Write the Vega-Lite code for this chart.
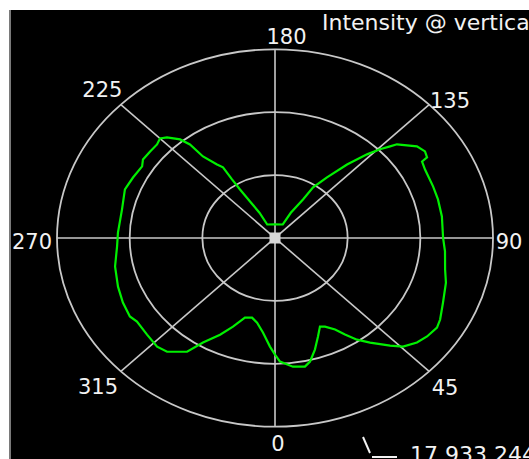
{
  "$schema": "https://vega.github.io/schema/vega-lite/v6.json",
  "width": 519,
  "height": 449,
  "autosize": {"type": "none"},
  "padding": {"left": 10, "top": 10, "right": 0, "bottom": 0},
  "background": "#ffffff",
  "config": {"view": {"fill": "#000000", "stroke": null}},
  "datasets": {
    "curve": [
      {"angle": 0, "r": 0.618}, {"angle": 2.0, "r": 0.655}, {"angle": 6.9, "r": 0.687}, {"angle": 11.4, "r": 0.695},
      {"angle": 13.8, "r": 0.674}, {"angle": 17.2, "r": 0.619}, {"angle": 20.7, "r": 0.558}, {"angle": 23.7, "r": 0.513},
      {"angle": 26.0, "r": 0.523}, {"angle": 29.6, "r": 0.558}, {"angle": 32.1, "r": 0.604}, {"angle": 34.9, "r": 0.657},
      {"angle": 38.2, "r": 0.705}, {"angle": 42.8, "r": 0.777}, {"angle": 45.6, "r": 0.822}, {"angle": 49.6, "r": 0.855},
      {"angle": 53.2, "r": 0.871}, {"angle": 57.4, "r": 0.882}, {"angle": 60.3, "r": 0.872}, {"angle": 66.1, "r": 0.843},
      {"angle": 73.2, "r": 0.819}, {"angle": 77.9, "r": 0.798}, {"angle": 84.8, "r": 0.783}, {"angle": 90.0, "r": 0.771},
      {"angle": 98.5, "r": 0.774}, {"angle": 105.3, "r": 0.775}, {"angle": 110.7, "r": 0.775}, {"angle": 117.8, "r": 0.778},
      {"angle": 121.0, "r": 0.787}, {"angle": 121.5, "r": 0.818}, {"angle": 123.7, "r": 0.827}, {"angle": 126.7, "r": 0.812},
      {"angle": 131.6, "r": 0.748}, {"angle": 132.6, "r": 0.717}, {"angle": 134.3, "r": 0.673}, {"angle": 136.4, "r": 0.612},
      {"angle": 139.7, "r": 0.511}, {"angle": 143.4, "r": 0.400}, {"angle": 146.9, "r": 0.320}, {"angle": 147.8, "r": 0.241},
      {"angle": 151.5, "r": 0.152}, {"angle": 153.5, "r": 0.080}, {"angle": 180.0, "r": 0.072}, {"angle": 206.5, "r": 0.080},
      {"angle": 208.0, "r": 0.152}, {"angle": 210.6, "r": 0.225}, {"angle": 212.0, "r": 0.303}, {"angle": 212.4, "r": 0.368},
      {"angle": 212.5, "r": 0.444}, {"angle": 214.3, "r": 0.472}, {"angle": 217.4, "r": 0.544}, {"angle": 218.2, "r": 0.631},
      {"angle": 219.8, "r": 0.680}, {"angle": 222.9, "r": 0.728}, {"angle": 225.0, "r": 0.746}, {"angle": 227.5, "r": 0.734},
      {"angle": 231.3, "r": 0.734}, {"angle": 235.5, "r": 0.735}, {"angle": 238.1, "r": 0.718}, {"angle": 243.8, "r": 0.726},
      {"angle": 249.5, "r": 0.735}, {"angle": 257.8, "r": 0.718}, {"angle": 267.7, "r": 0.721}, {"angle": 273.6, "r": 0.726},
      {"angle": 281.6, "r": 0.749}, {"angle": 289.7, "r": 0.765}, {"angle": 296.1, "r": 0.777}, {"angle": 302.0, "r": 0.785},
      {"angle": 305.0, "r": 0.773}, {"angle": 311.1, "r": 0.779}, {"angle": 316.8, "r": 0.790}, {"angle": 320.6, "r": 0.780},
      {"angle": 326.2, "r": 0.725}, {"angle": 329.2, "r": 0.645}, {"angle": 333.8, "r": 0.571}, {"angle": 337.7, "r": 0.508},
      {"angle": 341.9, "r": 0.444}, {"angle": 346.0, "r": 0.435}, {"angle": 349.6, "r": 0.456}, {"angle": 353.7, "r": 0.504},
      {"angle": 357.7, "r": 0.576}, {"angle": 360.0, "r": 0.618}
    ],
    "rings": [{"r": 0.3333}, {"r": 0.6667}, {"r": 1.0}],
    "spokes": [{"angle": 0}, {"angle": 45}, {"angle": 90}, {"angle": 135}],
    "labels": [
      {"label": "0", "x": 0.0138, "y": -1.0987},
      {"label": "45", "x": 0.7798, "y": -0.8019},
      {"label": "90", "x": 1.0734, "y": -0.0282},
      {"label": "135", "x": 0.8028, "y": 0.7190},
      {"label": "180", "x": 0.0528, "y": 1.0608},
      {"label": "225", "x": -0.7917, "y": 0.7773},
      {"label": "270", "x": -1.1147, "y": -0.0282},
      {"label": "315", "x": -0.8119, "y": -0.7966}
    ],
    "notes": [
      {"text": "Intensity @ vertical", "x": 0.2156, "y": 1.1002},
      {"text": "17.933.244", "x": 0.6193, "y": -1.1871}
    ],
    "strokes": [
      {"part": "backslash", "x": 0.4037, "y": -1.0546, "x2": 0.4358, "y2": -1.1394},
      {"part": "underscore", "x": 0.4450, "y": -1.1606, "x2": 0.5596, "y2": -1.1606}
    ]
  },
  "layer": [
    {
      "data": {"name": "rings"},
      "mark": {
        "type": "point",
        "shape": "M 1 0 C 1 0.4781 0.5523 0.8656 0 0.8656 C -0.5523 0.8656 -1 0.4781 -1 0 C -1 -0.4781 -0.5523 -0.8656 0 -0.8656 C 0.5523 -0.8656 1 -0.4781 1 0 Z",
        "filled": false,
        "color": "#c8c8c8",
        "strokeWidth": 1.8,
        "opacity": 1
      },
      "encoding": {
        "x": {"datum": 0, "type": "quantitative", "scale": {"domain": [-1.2156, 1.1651], "nice": false, "zero": false}, "axis": null},
        "y": {"datum": 0, "type": "quantitative", "scale": {"domain": [-1.1712, 1.2083], "nice": false, "zero": false}, "axis": null},
        "size": {"field": "r", "type": "quantitative", "scale": {"type": "pow", "exponent": 2, "domain": [0, 1], "range": [0, 190096]}, "legend": null}
      }
    },
    {
      "data": {"name": "spokes"},
      "transform": [
        {"calculate": "sin(datum.angle * PI / 180)", "as": "sx"},
        {"calculate": "-cos(datum.angle * PI / 180)", "as": "sy"},
        {"calculate": "-datum.sx", "as": "ex"},
        {"calculate": "-datum.sy", "as": "ey"}
      ],
      "mark": {"type": "rule", "color": "#c8c8c8", "strokeWidth": 1.6},
      "encoding": {
        "x": {"field": "sx", "type": "quantitative"},
        "y": {"field": "sy", "type": "quantitative"},
        "x2": {"field": "ex"},
        "y2": {"field": "ey"}
      }
    },
    {
      "data": {"values": [{"marker": "center"}]},
      "mark": {"type": "point", "shape": "square", "filled": true, "size": 121, "color": "#d8d8d8", "opacity": 1},
      "encoding": {
        "x": {"datum": 0, "type": "quantitative"},
        "y": {"datum": 0, "type": "quantitative"}
      }
    },
    {
      "data": {"name": "curve"},
      "transform": [
        {"calculate": "datum.r * sin(datum.angle * PI / 180)", "as": "px"},
        {"calculate": "-datum.r * cos(datum.angle * PI / 180)", "as": "py"}
      ],
      "mark": {"type": "line", "color": "#00f000", "strokeWidth": 2.2, "interpolate": "linear"},
      "encoding": {
        "x": {"field": "px", "type": "quantitative"},
        "y": {"field": "py", "type": "quantitative"},
        "order": {"field": "angle", "type": "quantitative"}
      }
    },
    {
      "data": {"name": "labels"},
      "mark": {"type": "text", "font": "DejaVu Sans", "fontSize": 21, "color": "#f2f2f2", "align": "center", "baseline": "middle"},
      "encoding": {
        "x": {"field": "x", "type": "quantitative"},
        "y": {"field": "y", "type": "quantitative"},
        "text": {"field": "label"}
      }
    },
    {
      "data": {"name": "notes"},
      "mark": {"type": "text", "font": "DejaVu Sans", "fontSize": 22, "color": "#f2f2f2", "align": "left", "baseline": "alphabetic", "clip": true},
      "encoding": {
        "x": {"field": "x", "type": "quantitative"},
        "y": {"field": "y", "type": "quantitative"},
        "text": {"field": "text"}
      }
    },
    {
      "data": {"name": "strokes"},
      "mark": {"type": "rule", "color": "#f2f2f2", "strokeWidth": 2},
      "encoding": {
        "x": {"field": "x", "type": "quantitative"},
        "y": {"field": "y", "type": "quantitative"},
        "x2": {"field": "x2"},
        "y2": {"field": "y2"}
      }
    },
    {
      "data": {"values": [{"edge": "left"}]},
      "mark": {"type": "rule", "color": "#7a7a7a", "strokeWidth": 2},
      "encoding": {
        "x": {"datum": -1.2156, "type": "quantitative"}
      }
    }
  ]
}
